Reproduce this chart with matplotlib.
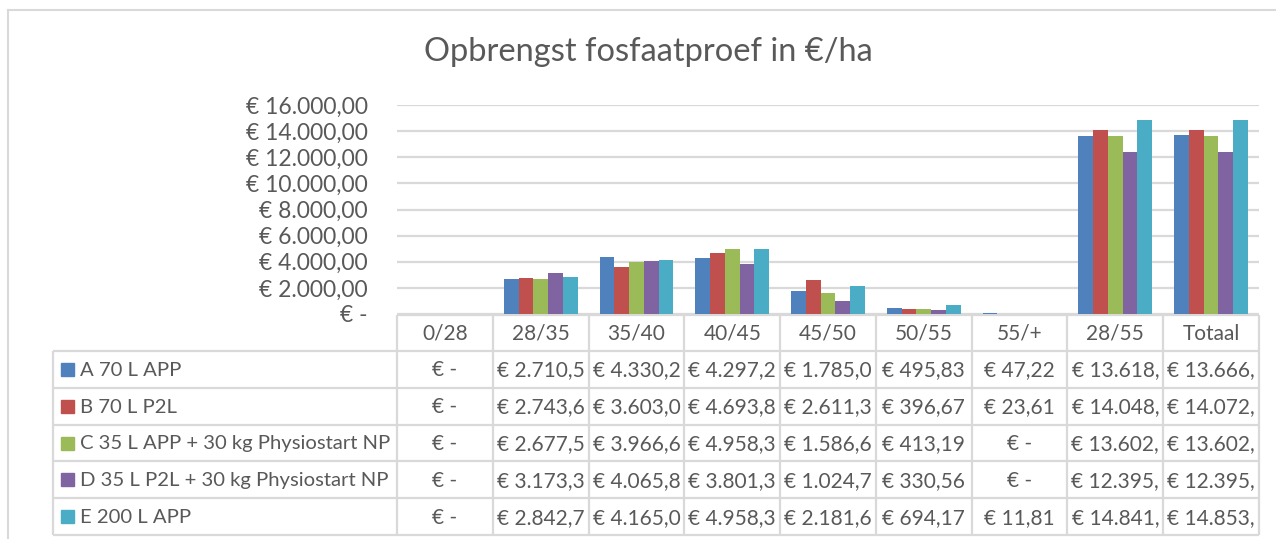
import matplotlib.pyplot as plt
from matplotlib.patches import Rectangle

plt.rcParams['font.family'] = ['Lato', 'DejaVu Sans']

categories = ['0/28', '28/35', '35/40', '40/45', '45/50', '50/55', '55/+', '28/55', 'Totaal']
series_names = ['A 70 L APP', 'B 70 L P2L', 'C 35 L APP + 30 kg Physiostart NP',
                'D 35 L P2L + 30 kg Physiostart NP', 'E 200 L APP']
vals_a = [0, 2710.50, 4330.20, 4297.20, 1785.00, 495.83, 47.22, 13618.70, 13666.00]
vals_b = [0, 2743.60, 3603.00, 4693.80, 2611.30, 396.67, 23.61, 14048.40, 14072.00]
vals_c = [0, 2677.50, 3966.60, 4958.30, 1586.60, 413.19, 0, 13602.20, 13602.20]
vals_d = [0, 3173.30, 4065.80, 3801.30, 1024.70, 330.56, 0, 12395.70, 12395.70]
vals_e = [0, 2842.70, 4165.00, 4958.30, 2181.60, 694.17, 11.81, 14841.80, 14853.60]
series = [vals_a, vals_b, vals_c, vals_d, vals_e]
colors = ['#4F81BD', '#C0504D', '#9BBB59', '#8064A2', '#4BACC6']
yticks = [0, 2000, 4000, 6000, 8000, 10000, 12000, 14000, 16000]

TXT = '#595959'
GRID = '#D9D9D9'
W, H = 1276, 539


def euro(v):
    if v == 0:
        return '€ -'
    s = f'{v:,.2f}'.replace(',', '#').replace('.', ',').replace('#', '.')
    return '€ ' + s


fig = plt.figure(figsize=(W / 100, H / 100), dpi=100)

# overlay in pixel coords for frame, title and data table
ov = fig.add_axes([0, 0, 1, 1])
ov.set_xlim(0, W)
ov.set_ylim(H, 0)
ov.axis('off')

# plot area
left, right, top, bottom = 397, 1259, 105, 314
ax = fig.add_axes([left / W, 1 - bottom / H, (right - left) / W, (bottom - top) / H])
ax.patch.set_alpha(0)

n = len(series)
bw = 1 / (n + 1.5)
for i, vals in enumerate(series):
    xs = [k + (i - (n - 1) / 2) * bw for k in range(len(categories))]
    ax.bar(xs, vals, width=bw, color=colors[i], zorder=3)

ax.set_xlim(-0.5, len(categories) - 0.5)
ax.set_ylim(0, 16000)
ax.set_yticks(yticks)
ax.set_yticklabels([euro(t) for t in yticks], fontsize=16.5, color=TXT)
ax.tick_params(axis='y', length=0, pad=21)
ax.set_xticks([])
ax.grid(axis='y', color=GRID, lw=1.6, zorder=0)
for s in ax.spines.values():
    s.set_visible(False)

# chart frame
ov.plot([8, W], [10, 10], color=GRID, lw=1.5)
ov.plot([8, 8], [10, H], color=GRID, lw=1.5)

ov.text(648, 52, 'Opbrengst fosfaatproef in €/ha', ha='center', va='center',
        fontsize=23.5, color=TXT)

# data table
col_w = (right - left) / len(categories)
head_top, head_bot = 315, 351
row_h = (535 - head_bot) / n
lab_left = 53
tcol = dict(color=GRID, lw=1.6, solid_capstyle='butt')

ov.plot([left, right], [head_top, head_top], **tcol)
for k in range(len(categories) + 1):
    x = left + k * col_w
    ov.plot([x, x], [head_top, 535], **tcol)
ov.plot([lab_left, lab_left], [head_bot, 535], **tcol)
for r in range(n + 1):
    y = head_bot + r * row_h
    ov.plot([lab_left, right], [y, y], **tcol)

for k, cat in enumerate(categories):
    ov.text(left + (k + 0.5) * col_w, (head_top + head_bot) / 2 + 1, cat,
            ha='center', va='center', fontsize=15, color=TXT)

for i, vals in enumerate(series):
    yc = head_bot + (i + 0.5) * row_h
    ov.add_patch(Rectangle((61, yc - 6.5), 13, 13, color=colors[i]))
    ov.text(80, yc + 1, series_names[i], ha='left', va='center', fontsize=14.6, color=TXT)
    for k, v in enumerate(vals):
        # Excel clips text that does not fit in the cell
        ov.text(left + (k + 0.5) * col_w, yc + 1, euro(v)[:9], ha='center', va='center',
                fontsize=15, color=TXT)

fig.savefig('out.png', dpi=100)
